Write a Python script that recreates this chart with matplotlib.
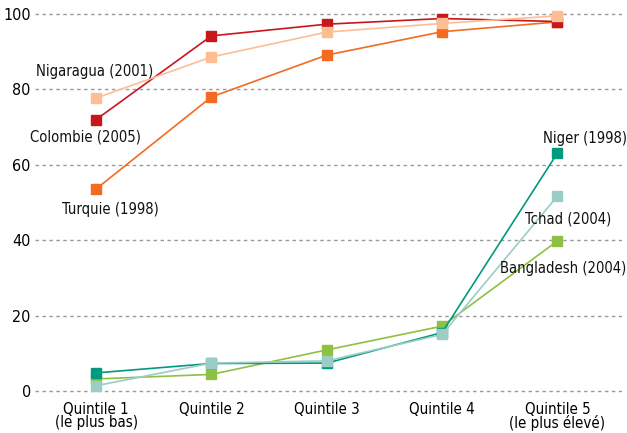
import matplotlib.pyplot as plt
from matplotlib import font_manager

quintiles = ["Quintile 1\n(le plus bas)", "Quintile 2", "Quintile 3", "Quintile 4",
             "Quintile 5\n(le plus élevé)"]

turquie = [53.6, 78.0, 89.1, 95.3, 97.9]
colombie = [72.0, 94.2, 97.3, 98.8, 98.0]
nicaragua = [77.7, 88.6, 95.2, 97.5, 99.5]
bangladesh = [3.2, 4.4, 10.9, 17.2, 39.8]
niger = [4.8, 7.3, 7.4, 15.5, 63.1]
tchad = [1.4, 7.4, 8.0, 15.0, 51.7]

names = [f.name for f in font_manager.fontManager.ttflist]
if "Liberation Sans Narrow" in names:
    plt.rcParams["font.family"] = ["Liberation Sans Narrow", "DejaVu Sans"]
else:
    plt.rcParams["font.family"] = ["DejaVu Sans"]
    plt.rcParams["font.stretch"] = "condensed"

fig = plt.figure(figsize=(6.27, 4.33), dpi=100)
ax = fig.add_axes([35 / 627, 1 - 395 / 433, 587 / 627, 383 / 433])

x = range(len(quintiles))
series = [
    (turquie, "#f26b21"),
    (colombie, "#c8161d"),
    (nicaragua, "#fdbe94"),
    (bangladesh, "#8dc043"),
    (niger, "#009a7d"),
    (tchad, "#99cdc5"),
]
for vals, col in series:
    ax.plot(x, vals, color=col, lw=1.2, marker="s", ms=7, clip_on=False, zorder=3)

ax.set_xlim(-0.53, 4.56)
ax.set_ylim(-1.06, 100.53)
ax.set_yticks([0, 20, 40, 60, 80, 100])
ax.set_xticks(list(x))
ax.set_xticklabels(quintiles, fontsize=10.8, linespacing=0.85)
ax.tick_params(axis="y", labelsize=11.5, length=0, pad=3)
ax.tick_params(axis="x", length=0, pad=5)
ax.grid(axis="y", color="#999999", ls=(0, (2.5, 2.5)), lw=1)
ax.set_axisbelow(True)
for s in ax.spines.values():
    s.set_visible(False)

lab = dict(fontsize=10.6, ha="center", va="center", color="#111111")
ax.text(-0.01, 84.8, "Nigaragua (2001)", **lab)
ax.text(-0.09, 67.4, "Colombie (2005)", **lab)
ax.text(0.12, 48.2, "Turquie (1998)", **lab)
ax.text(4.24, 67.0, "Niger (1998)", **lab)
ax.text(4.09, 45.5, "Tchad (2004)", **lab)
ax.text(4.05, 32.5, "Bangladesh (2004)", **lab)

fig.savefig("out.png", dpi=100)
